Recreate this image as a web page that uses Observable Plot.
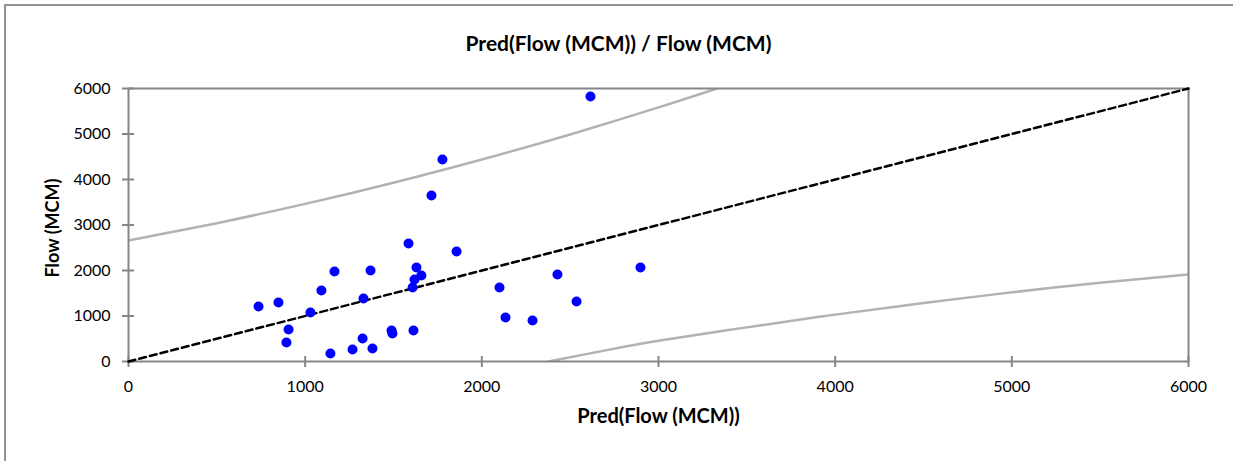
<!DOCTYPE html>
<html><head><meta charset="utf-8">
<script src="https://cdn.jsdelivr.net/npm/d3@7"></script>
<script src="https://cdn.jsdelivr.net/npm/@observablehq/plot@0.6"></script>
<style>
body{margin:0;background:#fff;}
#wrap{position:relative;width:1233px;height:461px;overflow:hidden;font-family:Lato,sans-serif;}
#border{position:absolute;left:4px;top:4px;width:1260px;height:490px;border:2px solid #939393;box-sizing:border-box;}
#chart{position:absolute;left:0;top:0;}
</style></head>
<body>
<div id="wrap"><div id="border"></div><div id="chart"></div></div>
<script>
// Scatter data: predicted vs observed flow (MCM)
const predFlow = [736, 849, 894, 906, 1030, 1092, 1166, 1143, 1268, 1330, 1325, 1370, 1381, 1489, 1494, 1585, 1613, 1608, 1619, 1630, 1658, 1715, 1777, 1857, 2100, 2134, 2287, 2428, 2536, 2898, 2615];
const flow     = [1209, 1297, 418, 703, 1077, 1560, 1978, 176, 264, 1385, 505, 2000, 286, 681, 615, 2593, 681, 1626, 1802, 2066, 1890, 3648, 4440, 2418, 1626, 967, 901, 1912, 1319, 2066, 5824];
// Upper and lower band curves
const upperPred = [0, 500, 1000, 1500, 2000, 2500, 3000, 3330];
const upperFlow = [2659, 3040, 3464, 3930, 4439, 4990, 5584, 6000];
const lowerPred = [2377, 2700, 3000, 3500, 4000, 4500, 5000, 5500, 6000];
const lowerFlow = [0, 245, 455, 750, 1030, 1285, 1520, 1730, 1915];
// Identity line
const diagPred = [0, 6000];
const diagFlow = [0, 6000];
// Ticks and labels
const xTicks = [0, 1000, 2000, 3000, 4000, 5000, 6000];
const yTicks = [0, 1000, 2000, 3000, 4000, 5000, 6000];
const title = "Pred(Flow (MCM)) / Flow (MCM)";
const xLabel = "Pred(Flow (MCM))";
const yLabel = "Flow (MCM)";

const pts = predFlow.map((p, i) => ({p, f: flow[i]}));
const up = upperPred.map((p, i) => ({p, f: upperFlow[i]}));
const lo = lowerPred.map((p, i) => ({p, f: lowerFlow[i]}));
const dg = diagPred.map((p, i) => ({p, f: diagFlow[i]}));
const axisColor = "#868686";

const plot = Plot.plot({
  width: 1233, height: 461,
  marginLeft: 128, marginRight: 45, marginTop: 88, marginBottom: 100,
  style: {fontFamily: "Lato, sans-serif", fontSize: "16px", color: "#000", background: "transparent", overflow: "visible"},
  x: {domain: [0, 6000]},
  y: {domain: [0, 6000]},
  marks: [
    Plot.line(up, {x: "p", y: "f", stroke: "#b2b2b2", strokeWidth: 2.5, curve: "natural", clip: true}),
    Plot.line(lo, {x: "p", y: "f", stroke: "#b2b2b2", strokeWidth: 2.5, curve: "natural", clip: true}),
    Plot.frame({stroke: axisColor, strokeWidth: 2}),
    Plot.ruleX(xTicks, {x: d => d, y1: 0, y2: 0, insetTop: -5, insetBottom: -6, stroke: axisColor, strokeWidth: 2}),
    Plot.ruleY(yTicks, {y: d => d, x1: 0, x2: 0, insetLeft: -6, insetRight: -6, stroke: axisColor, strokeWidth: 2}),
    Plot.line(dg, {x: "p", y: "f", stroke: "#000", strokeWidth: 2.5, strokeDasharray: "7,4"}),
    Plot.dot(pts, {x: "p", y: "f", r: 5, fill: "#0000ff", stroke: "none"}),
    Plot.axisX({ticks: xTicks, tickSize: 0, tickPadding: 19, tickFormat: d3.format("d"), label: null}),
    Plot.axisY({ticks: yTicks, tickSize: 0, tickPadding: 18, tickFormat: d3.format("d"), label: null}),
    Plot.text([xLabel], {frameAnchor: "bottom", dy: 61, text: d => d, fontWeight: "bold", fontSize: 20, textAnchor: "middle"}),
    Plot.text([yLabel], {frameAnchor: "left", dx: -75, dy: 3, rotate: -90, text: d => d, fontWeight: "bold", fontSize: 18, textAnchor: "middle"}),
    Plot.text([title], {frameAnchor: "top-left", dx: 490, dy: -52, text: d => d, fontWeight: "bold", fontSize: 21, textAnchor: "middle"})
  ]
});
document.getElementById("chart").appendChild(plot);
</script>
</body></html>
